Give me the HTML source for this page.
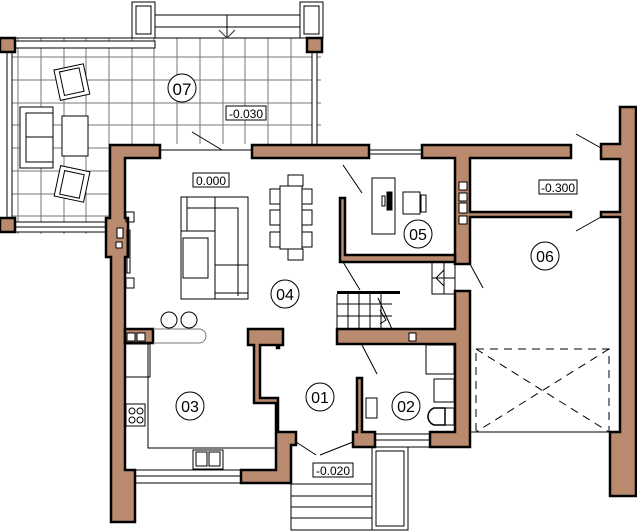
<!DOCTYPE html>
<html><head><meta charset="utf-8"><style>
html,body{margin:0;padding:0;background:#fff}
svg{display:block}
text{font-family:"Liberation Sans",sans-serif}
</style></head><body>
<svg width="637" height="531" viewBox="0 0 637 531" xmlns="http://www.w3.org/2000/svg">
<defs>
<clipPath id="tc"><rect x="7" y="38" width="314" height="196"/></clipPath>
</defs>
<!-- terrace grid -->
<g clip-path="url(#tc)" stroke="#777" stroke-width="1">
<path d="M18 38V234M41 38V234M64 38V234M86 38V234M109 38V234M132 38V234M154 38V234M177 38V234M200 38V234M223 38V234M245 38V234M268 38V234M291 38V234M313 38V234"/>
<path d="M7 57H321M7 80H321M7 103H321M7 125H321M7 148H321M7 171H321M7 194H321M7 216H321"/>
</g>
<rect x="110" y="144" width="220" height="100" fill="#fff"/>
<g fill="none" stroke="#000" stroke-width="1">
<line x1="7" y1="38" x2="307" y2="38"/>
<!-- top frame -->
<rect x="132" y="2" width="23" height="36" fill="#fff"/><rect x="136" y="6" width="15" height="28"/>
<rect x="300" y="2" width="23" height="36" fill="#fff"/><rect x="304" y="6" width="15" height="28"/>
<line x1="155" y1="15" x2="300" y2="15"/><line x1="155" y1="27" x2="300" y2="27"/><line x1="227" y1="15" x2="227" y2="38"/>
<path d="M219 30L227 38L235 30" stroke="#333"/>
<!-- railings -->
<rect x="15" y="41" width="140" height="7" fill="#fff"/>
<rect x="7" y="52" width="5" height="166" fill="#fff"/><rect x="312" y="52" width="5" height="93" fill="#fff"/>
<rect x="15" y="222" width="91" height="5" fill="#fff"/><rect x="15" y="227" width="91" height="5" fill="#fff"/>
<!-- terrace furniture -->
<rect x="20" y="107" width="33" height="61" fill="#fff"/><rect x="26" y="113" width="27" height="49"/><line x1="26" y1="137" x2="53" y2="137"/>
<rect x="62" y="116" width="26" height="40" fill="#fff"/>
<g transform="rotate(-12 70 83)"><rect x="57" y="67" width="30" height="31" fill="#fff"/><rect x="62" y="70" width="20" height="24"/></g>
<g transform="rotate(12 70 184)"><rect x="57" y="168" width="30" height="31" fill="#fff"/><rect x="62" y="172" width="20" height="24"/></g>
</g>
<circle cx="182" cy="88" r="14" fill="#fff" stroke="#000"/>
<text x="182" y="95" font-size="17" text-anchor="middle">07</text>
<rect x="226" y="106" width="40" height="14" fill="#fff" stroke="#000"/>
<text x="246" y="118" font-size="12" text-anchor="middle">-0.030</text>
<line x1="192" y1="132" x2="222" y2="150" stroke="#000"/>
<line x1="160" y1="150" x2="252" y2="150" stroke="#000"/>
<line x1="369" y1="150" x2="422" y2="150" stroke="#000"/><line x1="369" y1="154" x2="422" y2="154" stroke="#000"/>

<!-- walls -->
<g fill="#b98a6e" stroke="#000" stroke-width="2.5" stroke-linejoin="miter">
<rect x="0" y="38" width="15" height="14"/><rect x="307" y="38" width="15" height="14"/><rect x="0" y="218" width="15" height="14"/>
<path d="M110 145H160V158H125V218H128V257H125V470H135V522H111V257H106V218H110Z"/>
<rect x="252" y="145" width="117" height="13"/>
<path d="M422 145H571V158H470V212H571V217H470V264H455V158H422Z"/>
<path d="M601 144H620V107H636V496H610V432H620V217H601V212H620V159H601Z"/>
<path d="M455 291H470V447H430V432H455V344H337V329H455Z"/>
<path d="M340 198H345V255H455V262H340Z"/>
<rect x="125" y="329" width="28" height="14"/>
<path d="M248 329H283V345H279V348H277V345H260V398H278V432H296V445H291V483H241V470H276V403H254V345H248Z"/>
<path d="M357 378H362V432H375V447H353V432H357Z"/>
</g>
<rect x="337" y="291" width="63" height="3" fill="#000"/>
<g fill="none" stroke="#000" stroke-width="1">
<!-- stairs -->
<path d="M337 294V329M348 294V329M359 294V329M370 294V329M381 294V329M337 304H392M337 316H392"/>
<path d="M378 298L392 329M380 310L386 320L380 324"/>
<rect x="432" y="262" width="23" height="32"/><path d="M432 278H455M444 262V294M444 270L436 278L444 286"/>
<!-- door swings -->
<path d="M343 165L362 193M343 262L360 290M362 345L377 374M470 264L483 288M576 134L601 148M576 231L601 217M296 442L316 455M320 455L353 442"/>
<!-- living -->
<rect x="181" y="197" width="67" height="102"/><line x1="187" y1="197" x2="187" y2="231"/><path d="M187 208H238V296"/><path d="M215 197V299M181 231H215M215 265H248M215 293H248"/>
<rect x="183" y="238" width="25" height="40"/>
<rect x="280" y="186" width="22" height="63"/>
<rect x="288" y="175" width="15" height="11"/><rect x="288" y="249" width="15" height="11"/>
<rect x="270" y="189" width="10" height="15"/><rect x="270" y="210" width="10" height="15"/><rect x="270" y="232" width="10" height="15"/>
<rect x="302" y="189" width="10" height="15"/><rect x="302" y="210" width="10" height="15"/><rect x="302" y="232" width="10" height="15"/>
<rect x="126" y="212" width="8" height="10"/><rect x="126" y="278" width="8" height="10"/>
<rect x="127" y="230" width="3" height="43"/>
<circle cx="169" cy="320" r="8"/><circle cx="189" cy="320" r="8"/>
<path d="M153 329H199A7 7 0 0 1 199 343H153" stroke="#777"/>
<!-- kitchen -->
<path d="M125 344H150V377H125M148 344V448H276"/>
<rect x="126" y="404" width="19" height="22"/><circle cx="132" cy="411" r="3"/><circle cx="140" cy="411" r="3"/><circle cx="132" cy="420" r="3"/><circle cx="140" cy="420" r="3"/>
<rect x="193" y="450" width="30" height="19"/><rect x="196" y="452" width="11" height="14"/><rect x="209" y="452" width="11" height="14"/>
<path d="M135 470H241M135 476H241M135 483H241"/>
<!-- office -->
<rect x="372" y="178" width="23" height="56"/><rect x="403" y="192" width="17" height="22"/><rect x="421" y="195" width="5" height="17"/>
<rect x="387" y="192" width="5" height="18" fill="#000"/><rect x="382" y="196" width="3" height="10"/>
<!-- bathroom -->
<rect x="426" y="345" width="28" height="29"/><rect x="434" y="379" width="20" height="23"/>
<rect x="366" y="398" width="11" height="20"/>
<path d="M445 408H434A9 9 0 0 0 434 425H445Z" stroke-width="1.5"/><rect x="445" y="408" width="9" height="17"/>
<path d="M375 434H430M375 440H430M375 447H430"/>
<!-- entrance -->
<rect x="291" y="484" width="81" height="46"/><path d="M291 496H372M291 507H372M291 518H372"/>
<rect x="372" y="447" width="36" height="83"/><rect x="376" y="451" width="28" height="75"/>
<line x1="470" y1="432" x2="610" y2="432"/>
<!-- garage dashed -->
<g stroke-dasharray="8,6"><rect x="476" y="349" width="133" height="83"/><path d="M476 349L609 432M609 349L476 432"/></g>
</g>
<!-- vents -->
<g fill="#fff" stroke="#000" stroke-width="1">
<rect x="459" y="182" width="8" height="8"/><rect x="459" y="193" width="8" height="8"/><rect x="459" y="203" width="8" height="10"/><rect x="459" y="216" width="8" height="8"/>
<rect x="127" y="333" width="8" height="8"/><rect x="137" y="333" width="8" height="8"/><rect x="409" y="333" width="7" height="8"/>
<rect x="117" y="228" width="6" height="10"/><rect x="116" y="242" width="6" height="6"/>
</g>
<!-- labels -->
<g fill="#fff" stroke="#000" stroke-width="1">
<circle cx="285" cy="294" r="14"/><circle cx="418" cy="234" r="14"/><circle cx="545" cy="256" r="14"/>
<circle cx="190" cy="406" r="14"/><circle cx="320" cy="397" r="14"/><circle cx="406" cy="406" r="14"/>
<rect x="193" y="173" width="36" height="14"/><rect x="539" y="180" width="38" height="14"/><rect x="313" y="463" width="40" height="14"/>
</g>
<g font-size="16" text-anchor="middle">
<text x="285" y="300">04</text><text x="418" y="240">05</text><text x="545" y="262">06</text>
<text x="190" y="412">03</text><text x="320" y="403">01</text><text x="406" y="412">02</text>
</g>
<g font-size="12" text-anchor="middle">
<text x="211" y="185">0.000</text><text x="558" y="192">-0.300</text><text x="333" y="475">-0.020</text>
</g>
</svg>
</body></html>
